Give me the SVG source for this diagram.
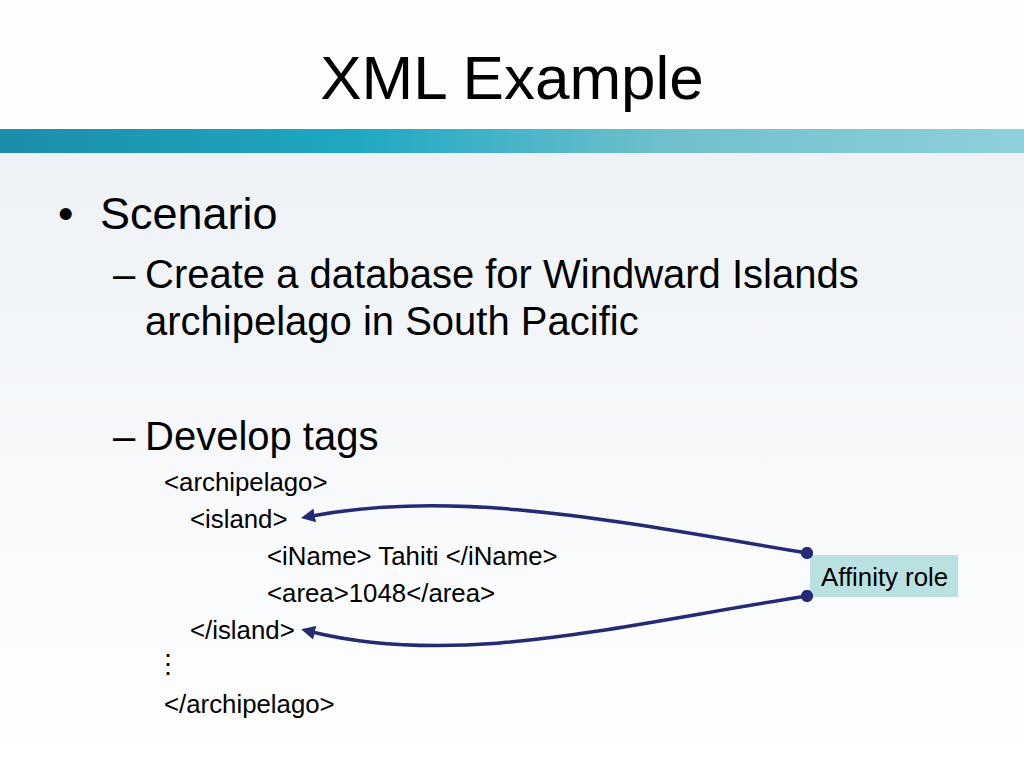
<svg xmlns="http://www.w3.org/2000/svg" width="1024" height="768" viewBox="0 0 1024 768">
<defs>
<linearGradient id="bg" x1="0" y1="0" x2="0" y2="1"><stop offset="0" stop-color="#eef2f6"/><stop offset="1" stop-color="#ffffff"/></linearGradient>
<linearGradient id="band" x1="0" y1="0" x2="1" y2="0"><stop offset="0" stop-color="#1b8ea8"/><stop offset="0.35" stop-color="#1fa8c2"/><stop offset="0.65" stop-color="#6fc0cc"/><stop offset="1" stop-color="#8fd0dc"/></linearGradient>
<marker id="ah" viewBox="0 0 10 10" refX="2" refY="5" markerWidth="4" markerHeight="4" orient="auto-start-reverse"><path d="M0,0 L10,5 L0,10 Z" fill="#252a75"/></marker>
<marker id="dot" viewBox="0 0 10 10" refX="5" refY="5" markerWidth="3.5" markerHeight="3.5"><circle cx="5" cy="5" r="5" fill="#252a75"/></marker>
</defs>
<style>
text{font-family:"Liberation Sans",Arial,sans-serif;fill:#000}
.code{font-size:25.8px}
.sub{font-size:40px}
.conn{fill:none;stroke:#252a75;stroke-width:3.5}
</style>
<rect width="1024" height="768" fill="#fdfdfe"/>
<rect x="0" y="153" width="1024" height="615" fill="url(#bg)"/>
<rect x="0" y="129" width="1024" height="24" fill="url(#band)"/>
<text x="512" y="99" font-size="62" text-anchor="middle">XML Example</text>
<text x="58" y="229" font-size="44">•</text>
<text x="100" y="229" font-size="45">Scenario</text>
<text x="113" y="288" class="sub">–</text>
<text x="145" y="288" class="sub">Create a database for Windward Islands</text>
<text x="145" y="335" class="sub">archipelago in South Pacific</text>
<text x="113" y="450" class="sub">–</text>
<text x="145" y="450" class="sub">Develop tags</text>
<text x="164" y="491" class="code">&lt;archipelago&gt;</text>
<text x="190" y="528" class="code">&lt;island&gt;</text>
<text x="267" y="565" class="code">&lt;iName&gt; Tahiti &lt;/iName&gt;</text>
<text x="267" y="602" class="code">&lt;area&gt;1048&lt;/area&gt;</text>
<text x="190" y="639" class="code">&lt;/island&gt;</text>
<text x="155" y="673" class="code">⋮</text>
<text x="164" y="713" class="code">&lt;/archipelago&gt;</text>
<g id="affinity">
<rect x="810" y="555" width="148" height="42" fill="#b9e1e1"/>
<text x="821" y="586" class="code" font-size="25px">Affinity role</text>
</g>
<g id="connectors">
<path class="conn" d="M807,553 C620,522 460,488 312,516" marker-start="url(#dot)" marker-end="url(#ah)"/>
<path class="conn" d="M807,596 C620,625 460,668 312,632" marker-start="url(#dot)" marker-end="url(#ah)"/>
</g>
</svg>
